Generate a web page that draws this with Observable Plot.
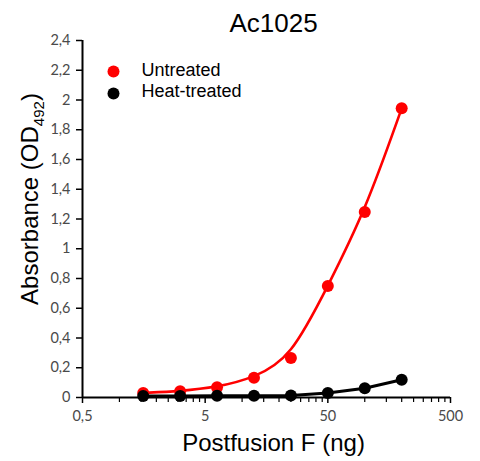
<!DOCTYPE html>
<html>
<head>
<meta charset="utf-8">
<script src="https://cdn.jsdelivr.net/npm/d3@7"></script>
<script src="https://cdn.jsdelivr.net/npm/@observablehq/plot@0.6"></script>
<style>
  html, body { margin: 0; padding: 0; background: #fff; }
  #chart { width: 480px; height: 461px; }
</style>
</head>
<body>
<div id="chart"></div>
<script>
// ---- data ----
const amountNg = [1.5625, 3.125, 6.25, 12.5, 25, 50, 100, 200];
const untreated = [0.031, 0.042, 0.069, 0.132, 0.266, 0.75, 1.247, 1.944];
const heatTreated = [0.010, 0.010, 0.011, 0.012, 0.014, 0.031, 0.062, 0.119];
const seriesNames = ["Untreated", "Heat-treated"];
const seriesColors = ["#ff0000", "#000000"];
const xMajorTicks = [0.5, 5, 50, 500];
const xMajorLabels = ["0,5", "5", "50", "500"];
const xMinorMultipliers = [2, 3, 4, 5, 6, 7, 8, 9];
const yTicks = [0, 0.2, 0.4, 0.6, 0.8, 1, 1.2, 1.4, 1.6, 1.8, 2, 2.2, 2.4];
const yTickLabels = ["0", "0,2", "0,4", "0,6", "0,8", "1", "1,2", "1,4", "1,6", "1,8", "2", "2,2", "2,4"];
const titleText = "Ac1025";
const xLabelText = "Postfusion F (ng)";
const yLabelMain = "Absorbance (OD";
const yLabelSub = "492";
const yLabelEnd = ")";

// ---- build ----
const rowsU = amountNg.map((x, i) => ({x, y: untreated[i]}));
const rowsH = amountNg.map((x, i) => ({x, y: heatTreated[i]}));
const minor = [];
xMajorTicks.slice(0, -1).forEach(m => xMinorMultipliers.forEach(k => minor.push(m * k)));
const xLabelRows = xMajorTicks.map((v, i) => ({v, label: xMajorLabels[i]}));

const tickFont = "Lato, 'Open Sans', sans-serif";
const labelFont = "'Liberation Sans', Arial, sans-serif";
const yLabelFull = yLabelMain + yLabelSub + yLabelEnd;
const tickColor = "#4a4a4a";

const chart = Plot.plot({
  width: 480,
  height: 461,
  marginLeft: 82,
  marginRight: 30,
  marginTop: 40,
  marginBottom: 64,
  style: {fontFamily: tickFont, fontSize: "14px", background: "#fff"},
  x: {type: "log", domain: [0.5, 500]},
  y: {domain: [0, 2.4]},
  marks: [
    Plot.axisX({ticks: minor, tickSize: 5, text: null, stroke: "#000", strokeWidth: 1.2, label: null}),
    Plot.axisX({ticks: xMajorTicks, tickSize: 6, text: null, stroke: "#000", strokeWidth: 1.5, label: null}),
    Plot.text(xLabelRows, {x: "v", text: "label", frameAnchor: "bottom", lineAnchor: "top", dy: 13, fill: tickColor, fontSize: 14.5, fontFamily: tickFont}),
    Plot.axisY({ticks: yTicks, tickSize: 6, tickPadding: 6, stroke: "#000", strokeWidth: 1.5,
      tickFormat: d => yTickLabels[yTicks.findIndex(t => Math.abs(t - d) < 1e-9)], fill: tickColor, fontSize: 14.5, fontFamily: tickFont, label: null}),
    Plot.ruleY([0], {stroke: "#000", strokeWidth: 2}),
    Plot.ruleX([0.5], {stroke: "#000", strokeWidth: 2}),
    Plot.line(rowsU, {x: "x", y: "y", curve: "basis", stroke: seriesColors[0], strokeWidth: 2.6}),
    Plot.dot(rowsU, {x: "x", y: "y", r: 6, fill: seriesColors[0]}),
    Plot.line(rowsH, {x: "x", y: "y", stroke: seriesColors[1], strokeWidth: 3}),
    Plot.dot(rowsH, {x: "x", y: "y", r: 6, fill: seriesColors[1]}),
    // legend
    Plot.dot([seriesNames[0]], {frameAnchor: "top-left", dx: 31, dy: 31, r: 6, fill: seriesColors[0]}),
    Plot.text([seriesNames[0]], {text: d => d, frameAnchor: "top-left", lineAnchor: "middle", dx: 59, dy: 30, textAnchor: "start", fontSize: 18, fontFamily: labelFont, fill: "#000"}),
    Plot.dot([seriesNames[1]], {frameAnchor: "top-left", dx: 31, dy: 53, r: 6, fill: seriesColors[1]}),
    Plot.text([seriesNames[1]], {text: d => d, frameAnchor: "top-left", lineAnchor: "middle", dx: 59, dy: 51, textAnchor: "start", fontSize: 18, fontFamily: labelFont, fill: "#000"}),
    // title and axis labels
    Plot.text([titleText], {text: d => d, frameAnchor: "top", dx: 7, dy: -27, fontSize: 26, fontFamily: labelFont, fill: "#000"}),
    Plot.text([xLabelText], {text: d => d, frameAnchor: "bottom", dx: 7, dy: 53, fontSize: 24, fontFamily: labelFont, fill: "#000"}),
    Plot.text([yLabelFull], {text: d => d, frameAnchor: "left", textAnchor: "middle", lineAnchor: "middle", dx: -52, dy: -20, rotate: -90, fontSize: 24, fontFamily: labelFont, fill: "#000"})
  ]
});

// subscript for OD492
chart.querySelectorAll("text").forEach(t => {
  if (t.textContent === yLabelFull) {
    t.textContent = "";
    const ns = "http://www.w3.org/2000/svg";
    const a = document.createElementNS(ns, "tspan"); a.textContent = yLabelMain; t.appendChild(a);
    const b = document.createElementNS(ns, "tspan"); b.textContent = yLabelSub; b.setAttribute("font-size", "15"); b.setAttribute("dy", "6"); t.appendChild(b);
    const c = document.createElementNS(ns, "tspan"); c.textContent = yLabelEnd; c.setAttribute("dy", "-6"); t.appendChild(c);
  }
});

document.getElementById("chart").appendChild(chart);
</script>
</body>
</html>
